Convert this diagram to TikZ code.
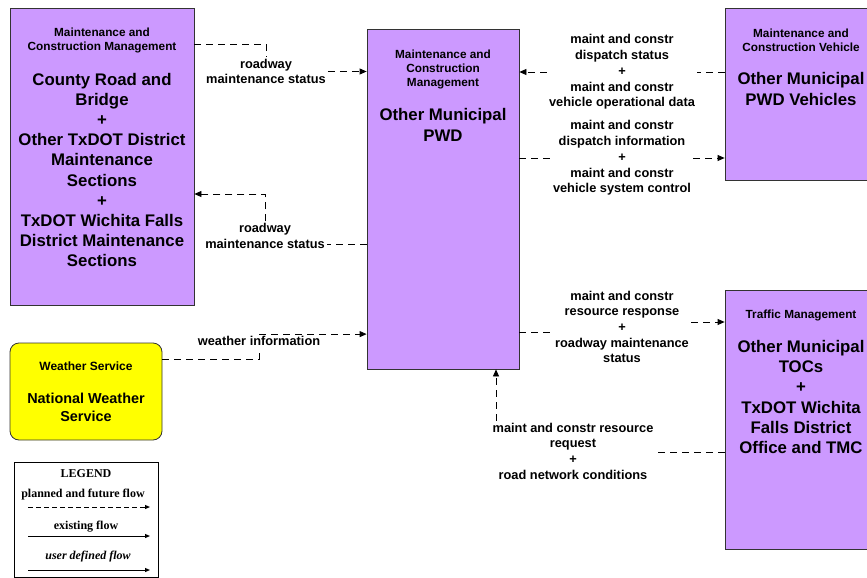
\documentclass[tikz,border=0pt]{standalone}
\usepackage{fontspec}
\setmainfont{Liberation Sans}
\newfontfamily\legendfont{Liberation Serif}
\usetikzlibrary{arrows.meta, positioning}
\definecolor{mcpurple}{RGB}{204,153,255}
\definecolor{wsyellow}{RGB}{255,255,0}

\begin{document}
\begin{tikzpicture}[
    x=1pt, y=-1pt,
    element/.style={rectangle, draw=black!80, line width=0.8pt, fill=mcpurple, inner sep=0pt},
    weather/.style={element, fill=wsyellow, rounded corners=9pt},
    elemcat/.style={align=center, font=\fontsize{11.8}{14}\selectfont\bfseries},
    elemname/.style={align=center, font=\fontsize{16.8}{20.2}\selectfont\bfseries},
    flowlabel/.style={align=center, inner sep=2pt, font=\fontsize{12.8}{15.7}\selectfont\bfseries},
    legendtext/.style={font=\legendfont\fontsize{12}{14}\selectfont\bfseries},
    flow/.style={draw=black, line width=0.8pt, dash pattern=on 7pt off 5pt},
    flowarrow/.style={-{Triangle[length=7pt, width=6pt]}},
    legendarrow/.style={line width=1pt, -{Triangle[length=5pt, width=4pt]}}
]
    \useasboundingbox (0,0) rectangle (867,578);

    % elements
    \node[element, minimum width=184pt, minimum height=297pt] (county) at (102,156.5) {};
    \node[elemcat] (countycat) at (102,40) {Maintenance and\\Construction Management};
    \node[elemname] (countyname) at (102,170) {County Road and\\Bridge\\+\\Other TxDOT District\\Maintenance\\Sections\\+\\TxDOT Wichita Falls\\District Maintenance\\Sections};

    \node[element, minimum width=152pt, minimum height=340pt] (pwd) at (443,199) {};
    \node[elemcat] (pwdcat) at (443,69) {Maintenance and\\Construction\\Management};
    \node[elemname] (pwdname) at (443,125) {Other Municipal\\PWD};

    \node[element, minimum width=152pt, minimum height=172pt] (veh) at (801,94) {};
    \node[elemcat] (vehcat) at (801,40) {Maintenance and\\Construction Vehicle};
    \node[elemname] (vehname) at (801,89) {Other Municipal\\PWD Vehicles};

    \node[element, minimum width=152pt, minimum height=259pt] (tmc) at (801,419.5) {};
    \node[elemcat] (tmccat) at (801,315) {Traffic Management};
    \node[elemname] (tmcname) at (801,397) {Other Municipal\\TOCs\\+\\TxDOT Wichita\\Falls District\\Office and TMC};

    \node[weather, minimum width=152pt, minimum height=97pt] (nws) at (86,391.5) {};
    \node[align=center, font=\fontsize{12}{14}\selectfont\bfseries] (nwscat) at (86,366) {Weather Service};
    \node[align=center, font=\fontsize{14.4}{18}\selectfont\bfseries] (nwsname) at (86,407) {National Weather\\Service};

    % flow labels
    \node[flowlabel] (rms1) at (266,71.5) {roadway\\maintenance status};
    \node[flowlabel] (rms2) at (265,236) {roadway\\maintenance status};
    \node[flowlabel] (wi) at (259,341) {weather information};
    \node[flowlabel] (vehstat) at (622,72) {maint and constr\\dispatch status\\+\\maint and constr\\vehicle operational data};
    \node[flowlabel] (vehctrl) at (622,158) {maint and constr\\dispatch information\\+\\maint and constr\\vehicle system control};
    \node[flowlabel] (resresp) at (622,327) {maint and constr\\resource response\\+\\roadway maintenance\\status};
    \node[flowlabel] (resreq) at (573,451) {maint and constr resource\\request\\+\\road network conditions};
    \coordinate (reqx) at (496,0);

    % flows
    \draw[flow] (county.east |- 0,44) -| (rms1.north);
    \draw[flow, flowarrow] (rms1.east) -- (pwd.west |- rms1.east);
    \draw[flow] (pwd.west |- 0,244) -- (rms2.east |- 0,244);
    \draw[flow, flowarrow] (rms2.north) |- (county.east |- 0,194);
    \draw[flow] (nws.east |- 0,359) -| (wi.south);
    \draw[flow, flowarrow] (wi.north) -- (pwd.west |- wi.north);
    \draw[flow] (veh.west |- vehstat.east) -- (vehstat.east);
    \draw[flow, flowarrow] (vehstat.west) -- (pwd.east |- vehstat.west);
    \draw[flow] (pwd.east |- vehctrl.west) -- (vehctrl.west);
    \draw[flow, flowarrow] (vehctrl.east) -- (veh.west |- vehctrl.east);
    \draw[flow] (pwd.east |- 0,332) -- (resresp.west |- 0,332);
    \draw[flow, flowarrow] (resresp.east |- 0,322) -- (tmc.west |- 0,322);
    \draw[flow] (tmc.west |- 0,452) -- (resreq.east |- 0,452);
    \draw[flow, flowarrow] (resreq.north -| reqx) -- (pwd.south -| reqx);

    % legend
    \node[draw=black, line width=0.6pt, minimum width=144pt, minimum height=115pt] (legend) at (86,519.5) {};
    \node[legendtext] (legtitle) at (86,474) {LEGEND};
    \node[legendtext] (legplanned) at (83,495) {planned and future flow};
    \node[legendtext] (legexist) at (86,527) {existing flow};
    \node[legendtext, font=\legendfont\fontsize{12}{14}\selectfont\bfseries\itshape] (leguser) at (88,557) {user defined flow};
    \coordinate (p1) at (28,507); \coordinate (p2) at (150,507);
    \coordinate (e1) at (28,536); \coordinate (e2) at (150,536);
    \coordinate (u1) at (28,570); \coordinate (u2) at (150,570);
    \draw[legendarrow, dash pattern=on 4.5pt off 3.5pt] (p1) -- (p2);
    \draw[legendarrow] (e1) -- (e2);
    \draw[legendarrow] (u1) -- (u2);
\end{tikzpicture}
\end{document}
